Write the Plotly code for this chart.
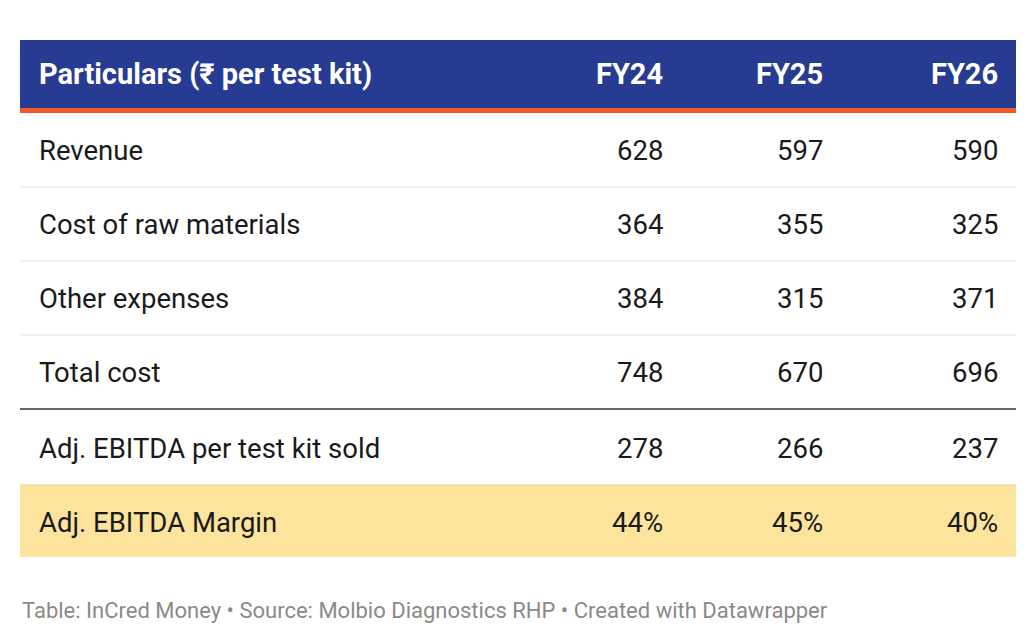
import plotly.graph_objects as go

header = ["Particulars (₹ per test kit)", "FY24", "FY25", "FY26"]
particulars = ["Revenue", "Cost of raw materials", "Other expenses", "Total cost",
               "Adj. EBITDA per test kit sold", "Adj. EBITDA Margin"]
fy24 = ["628", "364", "384", "748", "278", "44%"]
fy25 = ["597", "355", "315", "670", "266", "45%"]
fy26 = ["590", "325", "371", "696", "237", "40%"]
footer = "Table: InCred Money • Source: Molbio Diagnostics RHP • Created with Datawrapper"

W, H = 1020, 628
o = 8  # page body margin offset
left, right = 20 - o, 1016 - o
col_x = [37 - o, 665 - o, 825 - o, 1000 - o]
row_y = [150 - o, 224 - o, 298 - o, 372 - o, 448 - o, 522 - o]

fig = go.Figure()
shapes = []
ann = []

shapes.append(dict(type="rect", x0=left, x1=right, y0=40 - o, y1=108 - o, fillcolor="#283b93", line_width=0, layer="below"))
shapes.append(dict(type="rect", x0=left, x1=right, y0=108 - o, y1=113 - o, fillcolor="#f0592a", line_width=0))
shapes.append(dict(type="rect", x0=left, x1=right, y0=485 - o, y1=557 - o, fillcolor="#fde49c", line_width=0, layer="below"))
for y in [187, 261, 335]:
    shapes.append(dict(type="line", x0=left, x1=right, y0=y - o, y1=y - o, line=dict(color="#e3e3e3", width=1)))
shapes.append(dict(type="line", x0=left, x1=right, y0=409 - o, y1=409 - o, line=dict(color="#333333", width=1.5)))
shapes.append(dict(type="line", x0=left, x1=right, y0=485 - o, y1=485 - o, line=dict(color="#e8d48a", width=1)))

for i, h in enumerate(header):
    ann.append(dict(x=col_x[i], y=74 - o, text="<b>" + h + "</b>", xanchor="left" if i == 0 else "right",
                    font=dict(size=29, color="white")))

cols = [particulars, fy24, fy25, fy26]
for r, y in enumerate(row_y):
    for c in range(4):
        ann.append(dict(x=col_x[c], y=y, text=cols[c][r], xanchor="left" if c == 0 else "right",
                        font=dict(size=27.5, color="#1a1a1a")))

ann.append(dict(x=20 - o, y=610 - o, text=footer, xanchor="left", font=dict(size=22, color="#8a8a8a")))

for a in ann:
    a.update(xref="x", yref="y", showarrow=False, yanchor="middle")

fig.update_layout(
    width=W, height=H, margin=dict(l=0, r=0, t=0, b=0),
    plot_bgcolor="white", paper_bgcolor="white",
    font=dict(family="Roboto"),
    xaxis=dict(range=[0, W], visible=False, fixedrange=True),
    yaxis=dict(range=[H, 0], visible=False, fixedrange=True),
    shapes=shapes, annotations=ann, showlegend=False,
)
fig.write_html("out.html")
